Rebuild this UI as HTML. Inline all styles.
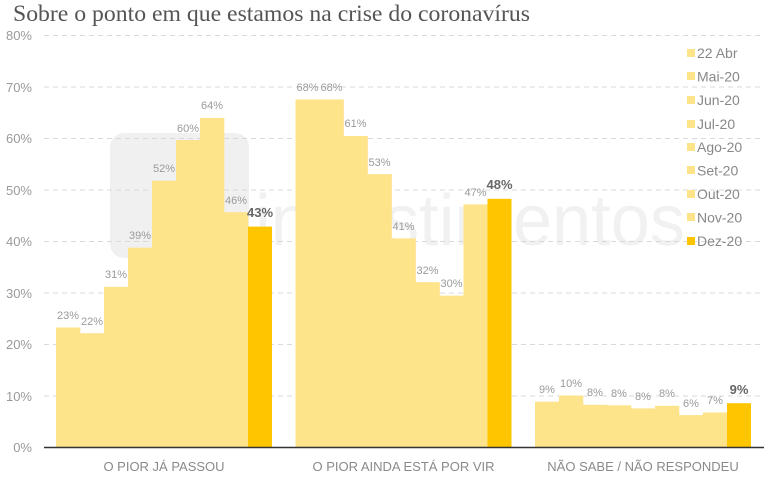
<!DOCTYPE html>
<html><head><meta charset="utf-8"><style>
html,body{margin:0;padding:0;background:#fff;}
svg{display:block;}
</style></head><body>
<svg width="768" height="478" viewBox="0 0 768 478" xmlns="http://www.w3.org/2000/svg">
<text x="13" y="21" font-family="Liberation Serif, serif" font-size="23" fill="#555" textLength="517" lengthAdjust="spacingAndGlyphs">Sobre o ponto em que estamos na crise do coronavírus</text>
<!-- watermark -->
<rect x="110" y="133" width="139" height="125" rx="14" fill="#f0f0f0"/>
<text x="255" y="245" font-family="Liberation Sans, sans-serif" font-size="72" fill="#f1f1f1" textLength="430" lengthAdjust="spacingAndGlyphs">investimentos</text>
<!-- grid -->
<g stroke="#d9d9d9" stroke-width="1" stroke-dasharray="5,4">
<line x1="44" x2="764" y1="35.5" y2="35.5"/>
<line x1="44" x2="764" y1="87" y2="87"/>
<line x1="44" x2="764" y1="138.5" y2="138.5"/>
<line x1="44" x2="764" y1="190" y2="190"/>
<line x1="44" x2="764" y1="241.5" y2="241.5"/>
<line x1="44" x2="764" y1="293" y2="293"/>
<line x1="44" x2="764" y1="344.5" y2="344.5"/>
<line x1="44" x2="764" y1="396" y2="396"/>
</g>
<g font-family="Liberation Sans, sans-serif" font-size="13" fill="#9a9a9a" text-anchor="end">
<text x="32" y="40">80%</text>
<text x="32" y="92">70%</text>
<text x="32" y="143">60%</text>
<text x="32" y="195">50%</text>
<text x="32" y="246">40%</text>
<text x="32" y="298">30%</text>
<text x="32" y="349">20%</text>
<text x="32" y="401">10%</text>
<text x="32" y="452">0%</text>
</g>
<!-- bars -->
<g fill="#fde38a">
<rect x="56" y="327.5" width="24.3" height="119.5"/>
<rect x="80" y="333.2" width="24.3" height="113.8"/>
<rect x="104" y="286.8" width="24.3" height="160.2"/>
<rect x="128" y="247.7" width="24.3" height="199.3"/>
<rect x="152" y="180.7" width="24.3" height="266.3"/>
<rect x="176" y="140.1" width="24.3" height="306.9"/>
<rect x="200" y="117.9" width="24.3" height="329.1"/>
<rect x="224" y="212.2" width="24.3" height="234.8"/>
<rect x="295.5" y="99.4" width="24.3" height="347.6"/>
<rect x="319.5" y="99.4" width="24.3" height="347.6"/>
<rect x="343.5" y="136" width="24.3" height="311"/>
<rect x="367.5" y="174.1" width="24.3" height="272.9"/>
<rect x="391.5" y="238.4" width="24.3" height="208.6"/>
<rect x="415.5" y="282.2" width="24.3" height="164.8"/>
<rect x="439.5" y="295.6" width="24.3" height="151.4"/>
<rect x="463.5" y="204.4" width="24.3" height="242.6"/>
<rect x="535" y="401.7" width="24.3" height="45.3"/>
<rect x="559" y="395.5" width="24.3" height="51.5"/>
<rect x="583" y="404.8" width="24.3" height="42.2"/>
<rect x="607" y="405.3" width="24.3" height="41.7"/>
<rect x="631" y="408.4" width="24.3" height="38.6"/>
<rect x="655" y="405.8" width="24.3" height="41.2"/>
<rect x="679" y="415.1" width="24.3" height="31.9"/>
<rect x="703" y="412.5" width="24.3" height="34.5"/>
</g>
<g fill="#ffc600">
<rect x="248" y="226.6" width="24" height="220.4"/>
<rect x="487.5" y="198.8" width="24" height="248.2"/>
<rect x="727" y="403.2" width="24" height="43.8"/>
</g>
<line x1="44" x2="764" y1="447.5" y2="447.5" stroke="#333" stroke-width="1.5"/>
<!-- data labels -->
<g font-family="Liberation Sans, sans-serif" font-size="11" fill="#9a9a9a" text-anchor="middle">
<text x="68" y="319">23%</text>
<text x="92" y="325">22%</text>
<text x="116" y="278">31%</text>
<text x="140" y="239">39%</text>
<text x="164" y="172">52%</text>
<text x="188" y="132">60%</text>
<text x="212" y="109">64%</text>
<text x="236" y="204">46%</text>
<text x="307.5" y="91">68%</text>
<text x="331.5" y="91">68%</text>
<text x="355.5" y="127">61%</text>
<text x="379.5" y="166">53%</text>
<text x="403.5" y="230">41%</text>
<text x="427.5" y="274">32%</text>
<text x="451.5" y="287">30%</text>
<text x="475.5" y="196">47%</text>
<text x="547" y="393">9%</text>
<text x="571" y="387">10%</text>
<text x="595" y="396">8%</text>
<text x="619" y="397">8%</text>
<text x="643" y="400">8%</text>
<text x="667" y="397">8%</text>
<text x="691" y="407">6%</text>
<text x="715" y="404">7%</text>
</g>
<g font-family="Liberation Sans, sans-serif" font-size="13" font-weight="bold" fill="#666" text-anchor="middle">
<text x="260" y="217">43%</text>
<text x="499.5" y="189">48%</text>
<text x="739" y="394">9%</text>
</g>
<!-- category labels -->
<g font-family="Liberation Sans, sans-serif" font-size="13" fill="#8a8a8a" text-anchor="middle">
<text x="164" y="471">O PIOR JÁ PASSOU</text>
<text x="403.5" y="471">O PIOR AINDA ESTÁ POR VIR</text>
<text x="643" y="471">NÃO SABE / NÃO RESPONDEU</text>
</g>
<!-- legend -->
<g fill="#fde38a">
<rect x="687" y="49" width="8" height="8"/>
<rect x="687" y="72" width="8" height="8"/>
<rect x="687" y="96" width="8" height="8"/>
<rect x="687" y="120" width="8" height="8"/>
<rect x="687" y="143" width="8" height="8"/>
<rect x="687" y="166" width="8" height="8"/>
<rect x="687" y="190" width="8" height="8"/>
<rect x="687" y="213" width="8" height="8"/>
</g>
<rect x="687" y="237" width="8" height="8" fill="#ffc600"/>
<g font-family="Liberation Sans, sans-serif" font-size="14" fill="#888">
<text x="697" y="58">22 Abr</text>
<text x="697" y="81.5">Mai-20</text>
<text x="697" y="105">Jun-20</text>
<text x="697" y="129">Jul-20</text>
<text x="697" y="152">Ago-20</text>
<text x="697" y="175.5">Set-20</text>
<text x="697" y="199">Out-20</text>
<text x="697" y="222.5">Nov-20</text>
<text x="697" y="246">Dez-20</text>
</g>
</svg>
</body></html>
